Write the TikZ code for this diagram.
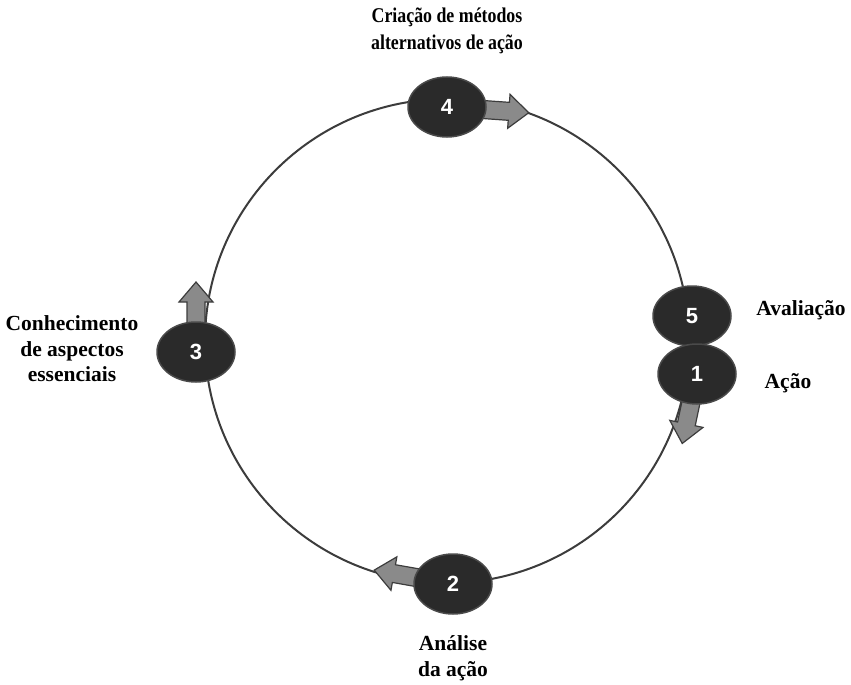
\documentclass[tikz,border=0pt]{standalone}
\usepackage{fontspec}
\setmainfont{Liberation Serif}
\newfontfamily\numfont{Liberation Sans}
\newfontfamily\narrowfont[FakeStretch=0.85]{Liberation Serif Bold}
\usetikzlibrary{shapes.geometric,backgrounds}

\definecolor{stagedark}{HTML}{2A2A2A}
\definecolor{stageedge}{HTML}{4A4A4A}
\definecolor{flowgray}{HTML}{8A8A8A}
\definecolor{ringgray}{HTML}{3C3C3C}

\tikzset{
  stage/.style={ellipse, fill=stagedark, draw=stageedge, line width=1.5pt,
    minimum width=78pt, minimum height=60pt, inner sep=0pt, text=white,
    font=\numfont\bfseries\fontsize{22}{22}\selectfont},
  steplabel/.style={align=center, font=\bfseries\fontsize{21.5}{25.5}\selectfont},
  pics/flow/.style={code={
    \draw[fill=flowgray, draw=ringgray, line width=1.2pt, line join=miter]
      (0,-9) -- ({#1-20},-9) -- ({#1-20},-17) -- (#1,0)
      -- ({#1-20},17) -- ({#1-20},9) -- (0,9) -- cycle;
  }}
}

\begin{document}
\begin{tikzpicture}[x=1pt, y=-1pt]
    \useasboundingbox (0,0) rectangle (851,685);
    % The five stages
    \node[stage] (s4) at (447,107) {4};
    \node[stage] (s3) at (196,352) {3};
    \node[stage] (s2) at (453,584) {2};
    \node[stage] (s5) at (692,316) {5};
    \node[stage] (s1) at (697,374) {1};
    % Ring and arrows behind the stages
    \begin{scope}[on background layer]
        \draw[ringgray, line width=2pt] (447,341) circle (242);
        \pic[rotate=-4] at (s4) {flow=82};
        \pic[rotate=90] at (s3) {flow=70};
        \pic[rotate=170] at (s2) {flow=80};
        \pic[rotate=-102] at (s1) {flow=71};
    \end{scope}
    % Labels
    \node[align=center, font=\narrowfont\fontsize{21}{27}\selectfont]
        (t4) at (447,31) {Criação de métodos\\alternativos de ação};
    \node[steplabel] (t5) at (801,310) {Avaliação};
    \node[steplabel] (t1) at (788,383) {Ação};
    \node[steplabel] (t3) at (72,349) {Conhecimento\\de aspectos\\essenciais};
    \node[steplabel] (t2) at (453,658) {Análise\\da ação};
\end{tikzpicture}
\end{document}
